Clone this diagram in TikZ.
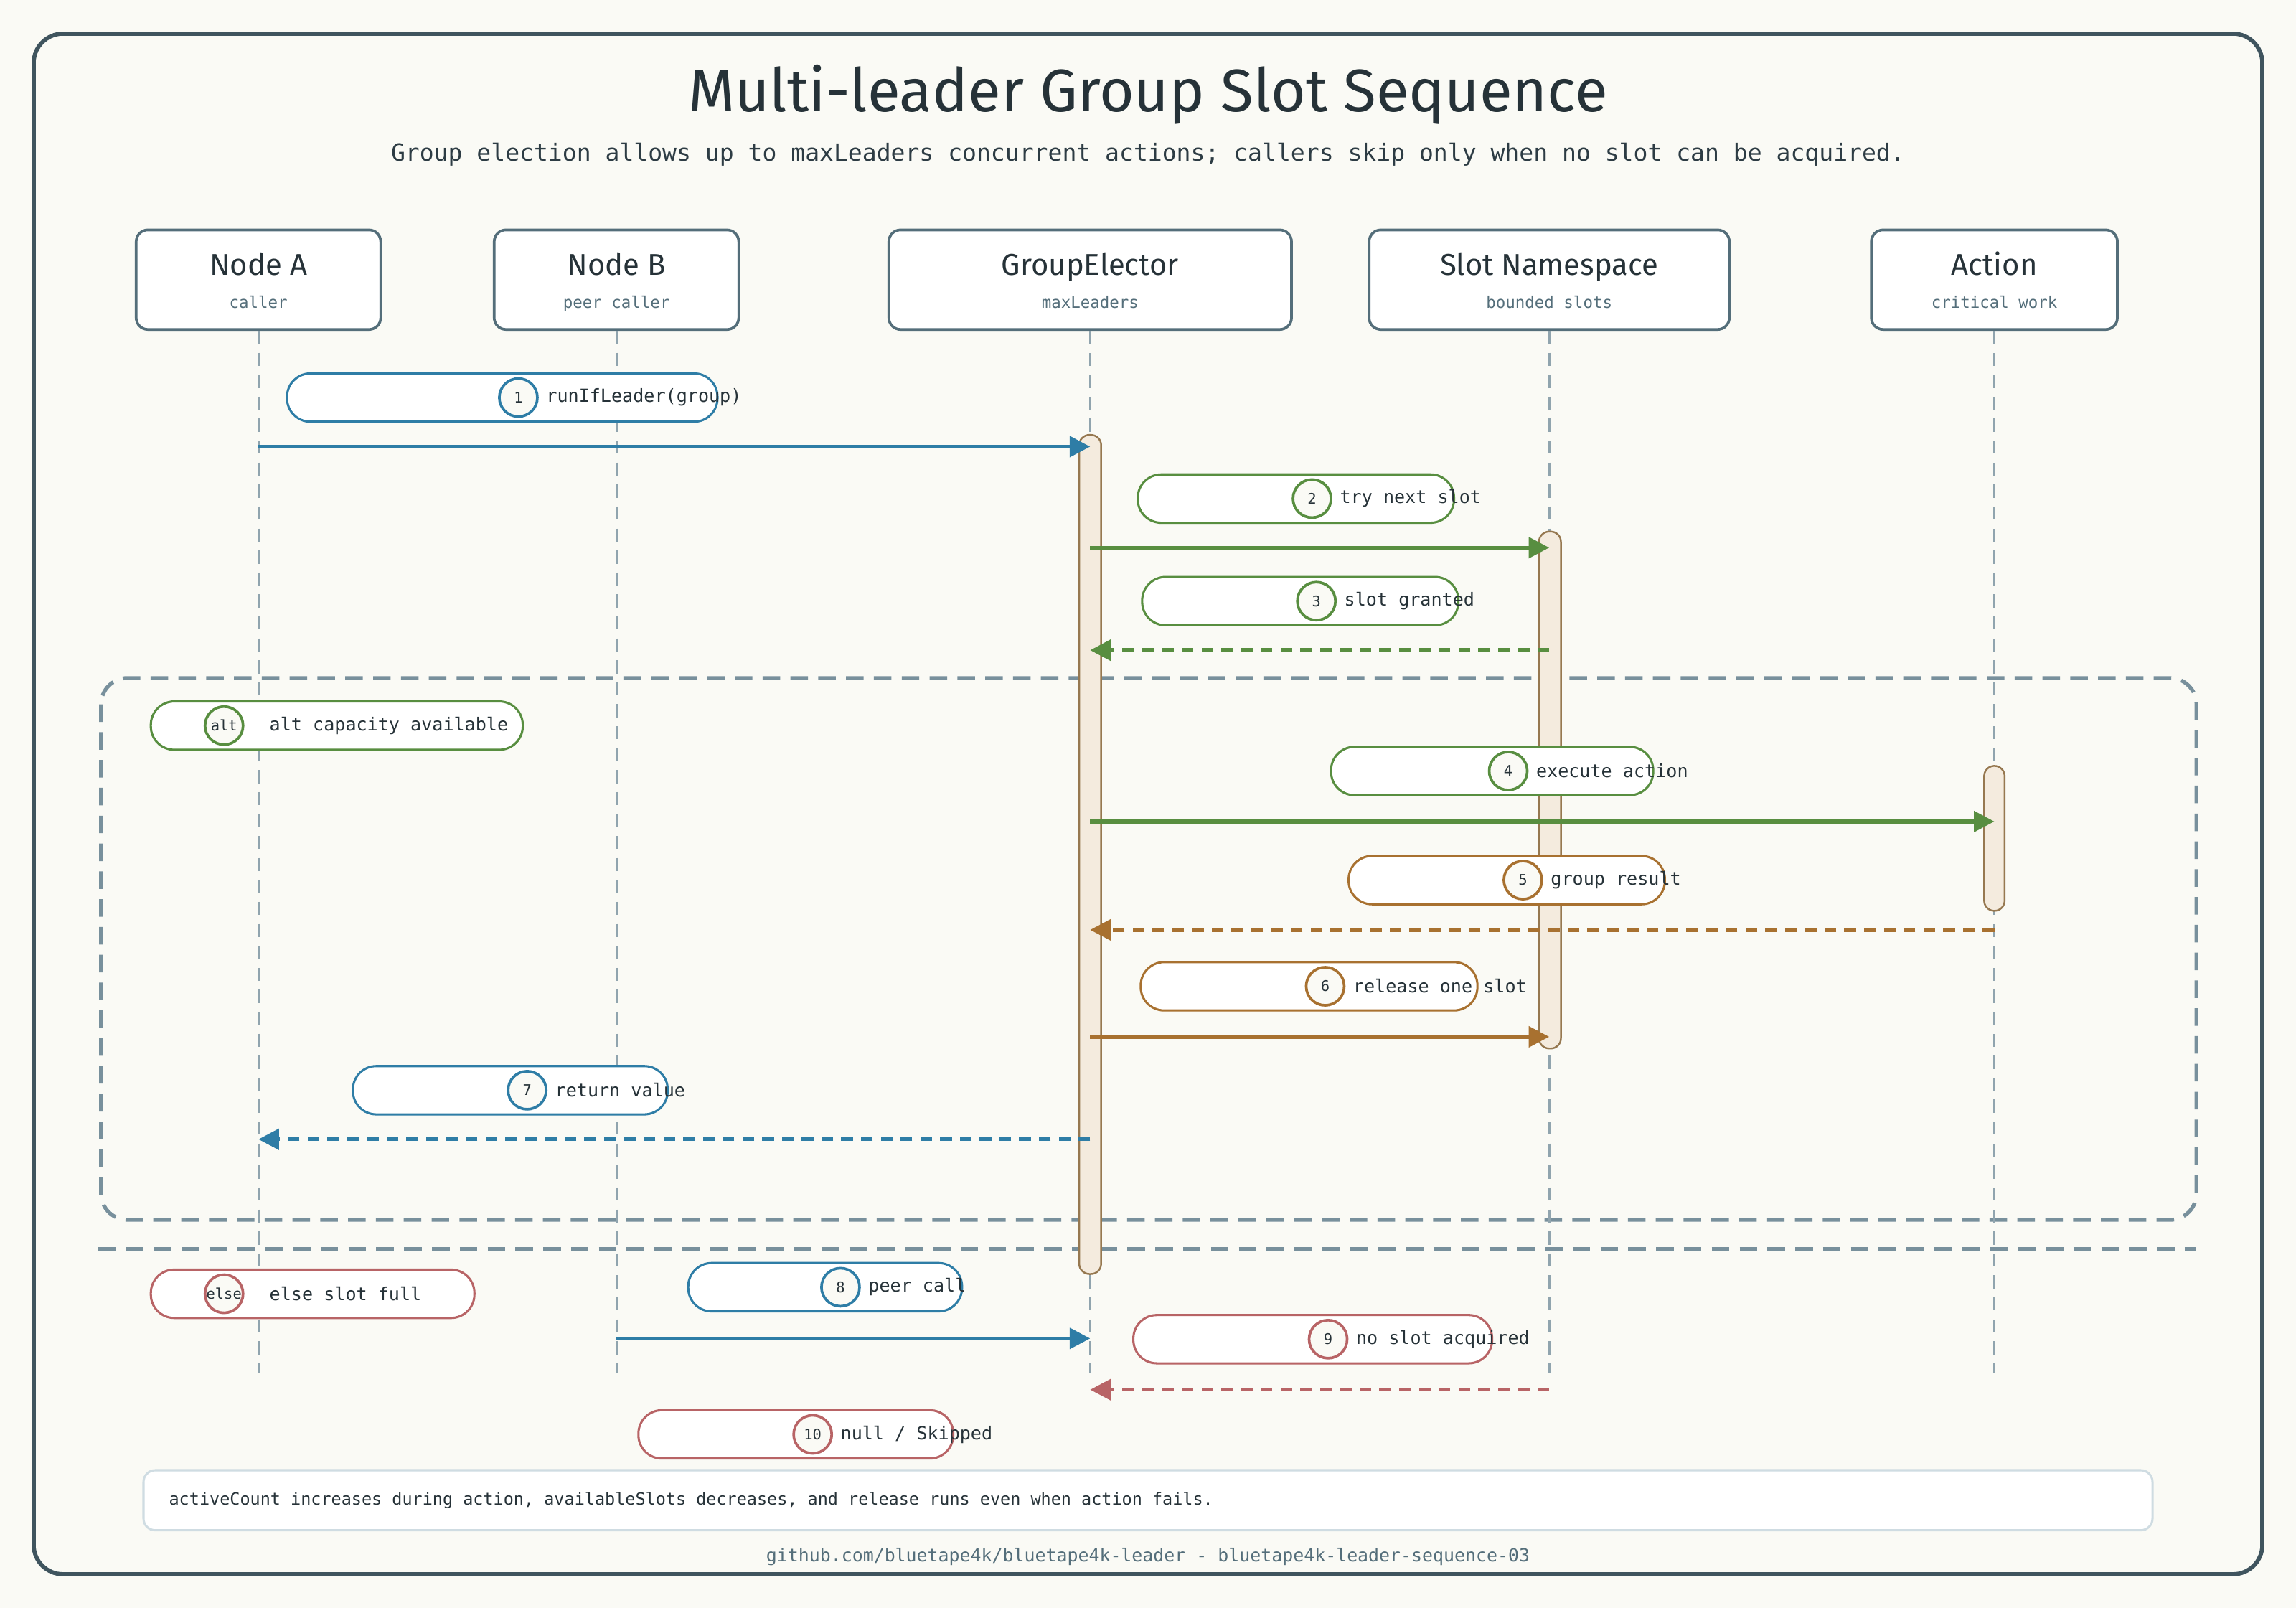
\documentclass[tikz,border=0pt]{standalone}
\usepackage{fontspec}
\setmainfont{Fira Sans}
\setmonofont{DejaVu Sans Mono}
\usepackage{tikz}
\usetikzlibrary{arrows.meta, positioning}
\definecolor{PaperBg}{RGB}{250,250,245}
\definecolor{FrameInk}{RGB}{63,84,94}
\definecolor{BoxInk}{RGB}{84,110,122}
\definecolor{TitleInk}{RGB}{38,50,56}
\definecolor{TextInk}{RGB}{45,60,68}
\definecolor{LifeGray}{RGB}{144,164,174}
\definecolor{GroupGray}{RGB}{120,144,156}
\definecolor{MsgBlue}{RGB}{46,125,166}
\definecolor{MsgGreen}{RGB}{88,142,64}
\definecolor{MsgBrown}{RGB}{168,113,48}
\definecolor{MsgRed}{RGB}{184,100,102}
\definecolor{BarFill}{RGB}{244,235,222}
\definecolor{BarInk}{RGB}{150,120,80}
\definecolor{NoteInk}{RGB}{207,220,226}

\begin{document}
\begin{tikzpicture}[x=1pt, y=-1pt,
	actor/.style={draw=BoxInk, line width=1.8pt, fill=white, rounded corners=8pt, minimum height=68pt, inner sep=0pt},
	actorname/.style={anchor=base, font=\fontsize{20.5}{24}\selectfont, text=TitleInk},
	actorsub/.style={anchor=base, font=\ttfamily\fontsize{11}{13}\selectfont, text=BoxInk},
	lifeline/.style={LifeGray, line width=1.5pt, dash pattern=on 9pt off 6pt},
	actbar/.style={draw=BarInk, fill=BarFill, line width=1.2pt, rounded corners=7pt},
	msg/.style={line width=2.6pt, -{Triangle[length=14pt, width=14pt]}},
	reply/.style={msg, dash pattern=on 8pt off 5.5pt},
	pill/.style={fill=white, line width=1.5pt, rounded corners=16pt},
	stepnum/.style={circle, fill=PaperBg, line width=1.8pt, minimum size=26pt, inner sep=0pt, font=\ttfamily\fontsize{10}{12}\selectfont, text=TitleInk},
	lbl/.style={inner sep=0pt, font=\ttfamily\fontsize{12.3}{14}\selectfont, text=TitleInk},
	frag/.style={GroupGray, line width=2.6pt, dash pattern=on 12pt off 7pt}]
	% page and outer frame
	\fill[PaperBg] (0,0) rectangle (1568,1098);
	\useasboundingbox (0,0) rectangle (1568,1098);
	\draw[FrameInk, line width=2.8pt, rounded corners=20pt] (23,23) rectangle (1545,1075);
	\node[anchor=base, font=\fontsize{41}{48}\selectfont, text=TitleInk] (title) at (784,76) {Multi-leader Group Slot Sequence};
	\node[anchor=base, font=\ttfamily\fontsize{16.2}{19}\selectfont, text=TextInk] (subtitle) at (784,110) {Group election allows up to maxLeaders concurrent actions; callers skip only when no slot can be acquired.};
	% alt / else fragment
	\draw[frag, rounded corners=18pt] (69,463) rectangle (1500,833);
	\draw[frag] (67,853) -- (1500,853);
	% participants
	\coordinate (lifeEnd) at (0,938);
	\foreach \id/\cx/\w/\name/\sub in {nodeA/176.5/167/Node A/caller, nodeB/421/167/Node B/peer caller, elector/744.5/275/GroupElector/maxLeaders, slots/1058/246/Slot Namespace/bounded slots, action/1362/168/Action/critical work}
	{
		\node[actor, minimum width=\w pt] (\id) at (\cx,191) {};
		\node[actorname] (\id-name) at (\cx,188) {\name};
		\node[actorsub] (\id-sub) at (\cx,210.5) {\sub};
		\draw[lifeline] (\id.south) -- (\id |- lifeEnd);
	}
	% activations
	\draw[actbar] (737,297) rectangle (752,870);
	\draw[actbar] (1051,363) rectangle (1066,716);
	\draw[actbar] (1355,523) rectangle (1369,622);
	% messages
	\foreach \i/\ya/\src/\dst/\col/\kind in {1/305/nodeA/elector/MsgBlue/msg, 2/374/elector/slots/MsgGreen/msg, 3/444/slots/elector/MsgGreen/reply, 4/561/elector/action/MsgGreen/msg, 5/635/action/elector/MsgBrown/reply, 6/708/elector/slots/MsgBrown/msg, 7/778/elector/nodeA/MsgBlue/reply, 8/914/nodeB/elector/MsgBlue/msg, 9/949/slots/elector/MsgRed/reply}
	{
		\coordinate (m\i) at (0,\ya);
		\draw[\kind, \col] (\src |- m\i) -- (\dst |- m\i);
	}
	% labels
	\foreach \mk/\xa/\xb/\yc/\cx/\gap/\col/\txt in {1/196/490/271.5/354/5/MsgBlue/{runIfLeader(group)}, 2/777/993/340.5/896/5/MsgGreen/{try next slot}, 3/780/996/410.5/899/5/MsgGreen/{slot granted}, alt/103/357/495.5/153/17/MsgGreen/{alt capacity available}, 4/909/1129/526.5/1030/5/MsgGreen/{execute action}, 5/921/1137/601/1040/5/MsgBrown/{group result}, 6/779/1009/673.5/905/5/MsgBrown/{release one slot}, 7/241/456/744.5/360/5/MsgBlue/{return value}, else/103/324/883.5/153/17/MsgRed/{else slot full}, 8/470/657/879/574/5/MsgBlue/{peer call}, 9/774/1019/914.5/907/5/MsgRed/{no slot acquired}, 10/436/651/979.5/555/5/MsgRed/{null / Skipped}}
	{
		\draw[pill, draw=\col] (\xa,\yc-16.5) rectangle (\xb,\yc+16.5);
		\node[stepnum, draw=\col] (n\mk) at (\cx,\yc) {\mk};
		\node[lbl, right=\gap pt of n\mk] (t\mk) {\txt};
	}
	% note and footer
	\node[draw=NoteInk, fill=white, line width=1.5pt, rounded corners=8pt, minimum width=1372pt, minimum height=41pt] (note) at (784,1024.5) {};
	\node[lbl, font=\ttfamily\fontsize{11.5}{13}\selectfont, right=18pt of note.west] (notetext) {activeCount increases during action, availableSlots decreases, and release runs even when action fails.};
	\node[font=\ttfamily\fontsize{12.2}{14}\selectfont, text=BoxInk] (footer) at (784,1063) {github.com/bluetape4k/bluetape4k-leader - bluetape4k-leader-sequence-03};
\end{tikzpicture}
\end{document}
